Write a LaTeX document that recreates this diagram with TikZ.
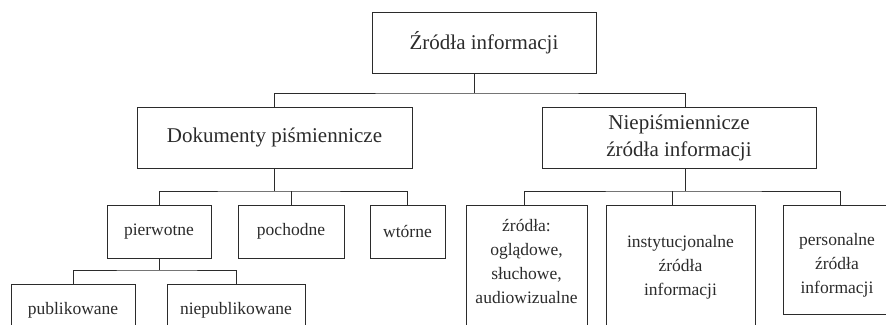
\documentclass[tikz,border=0pt]{standalone}
\usepackage{fontspec}
\setmainfont{Liberation Serif}
\definecolor{ink}{HTML}{2B2B2B}
\begin{document}
\begin{tikzpicture}[x=1pt,y=-1pt,
  box/.style={draw=ink, line width=0.9pt, inner sep=0pt, text=ink, align=center},
  big/.style={font=\fontsize{21}{27}\selectfont},
  small/.style={font=\fontsize{17.5}{24}\selectfont},
  txt/.style={text=ink, align=center, inner sep=0pt},
  link/.style={draw=ink, line width=0.9pt}]
\useasboundingbox (0,0) rectangle (886,324);
\clip (0,0) rectangle (886,324);
% level 0
\node[box,big,minimum width=224,minimum height=61] (top) at (484,42.5) {Źródła informacji};
% level 1
\node[box,big,minimum width=275,minimum height=61] (dok) at (274.5,137.5) {Dokumenty piśmiennicze};
\node[box,big,minimum width=274,minimum height=61] (niep) at (679,137.5) {Niepiśmiennicze\\źródła informacji};
% level 2 left
\node[box,small,minimum width=104,minimum height=53] (pierw) at (159,231.5) {pierwotne};
\node[box,small,minimum width=106,minimum height=53] (poch) at (291,231.5) {pochodne};
\node[box,small,minimum width=75,minimum height=53] (wtor) at (407.5,231.5) {wtórne};
% level 3 left
\node[box,minimum width=124,minimum height=70,anchor=north] (publ) at (73,284) {};
\node[txt,small] (publt) at (73,310) {publikowane};
\node[box,minimum width=138,minimum height=70,anchor=north] (npubl) at (236,284) {};
\node[txt,small] (npublt) at (236,310) {niepublikowane};
% level 2 right
\node[box,minimum width=121,minimum height=140,anchor=north] (zr) at (526.5,205) {};
\node[txt,small] (zrt) at (526.5,261) {źródła:\\oglądowe,\\słuchowe,\\audiowizualne};
\node[box,minimum width=149,minimum height=140,anchor=north] (inst) at (680.5,205) {};
\node[txt,small] (instt) at (680.5,267) {instytucjonalne\\źródła\\informacji};
\node[box,minimum width=108,minimum height=109,anchor=north] (pers) at (837,205) {};
\node[txt,small] (perst) at (837,265) {personalne\\źródła\\informacji};
% connectors
\coordinate (a0) at (474,93);
\coordinate (a1) at (685,107);
\draw[link] (top.south -| a0) -- (a0);
\draw[link] (dok.north) |- (a0) -| (a1);
\coordinate (b0) at (274.5,191);
\draw[link] (dok.south) -- (b0);
\draw[link] (pierw.north) |- (b0) -| (wtor.north);
\draw[link] (poch.north) -- (poch.north |- b0);
\coordinate (c0y) at (0,270);
\draw[link] (pierw.south) -- (pierw.south |- c0y);
\draw[link] (publ.north) |- (pierw.south |- c0y) -| (npubl.north);
\coordinate (d0) at (685,191);
\coordinate (dz) at (524,205);
\coordinate (di) at (672,205);
\coordinate (dp) at (840,205);
\draw[link] (a1 |- niep.south) -- (d0);
\draw[link] (dz) |- (d0) -| (dp);
\draw[link] (di) -- (di |- d0);
\end{tikzpicture}
\end{document}
